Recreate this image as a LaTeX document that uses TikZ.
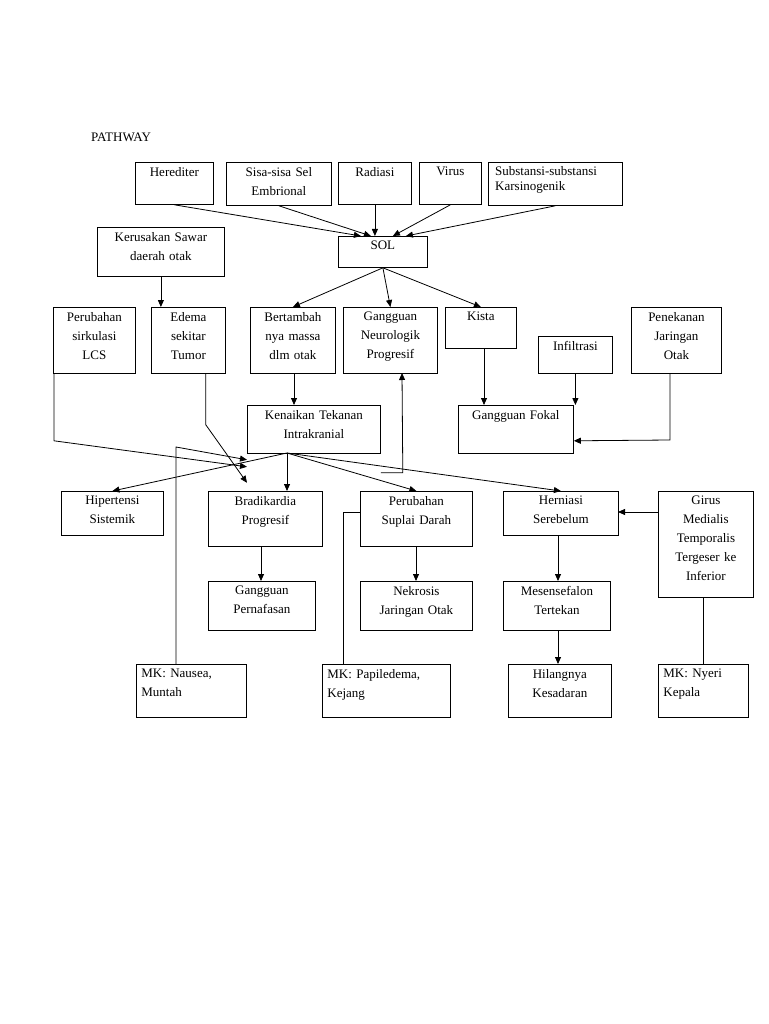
\documentclass[tikz,border=0pt]{standalone}
\usepackage{fontspec}
\setmainfont{Liberation Serif}
\usetikzlibrary{arrows.meta}
\newcommand{\bx}[7]{% name, x1,y1,x2,y2, align, text
 \node[box,minimum width={#4-#2},minimum height={#5-#3},anchor=north west] (#1) at (#2,#3) {};
 \node[txt,align=#6,anchor=north,text width={#4-#2-10}] (#1t) at ([yshift=-3]#1.north) {#7};}
\begin{document}
\begin{tikzpicture}[x=1pt,y=-1pt,
 box/.style={draw,line width=0.8pt,inner sep=0pt},
 txt/.style={inner sep=2pt,font=\fontsize{13}{19}\selectfont},
 arr/.style={line width=0.8pt,-{Triangle[length=7pt,width=6pt]}},
 ln/.style={line width=0.8pt}]
\useasboundingbox (0,0) rectangle (768,1024);
\node[txt,anchor=west] (title) at (89,137) {PATHWAY};
\bx{her}{135}{162}{213}{204}{center}{Herediter}
\bx{sis}{226}{162}{331}{205}{center}{Sisa-sisa Sel\\Embrional}
\bx{rad}{338}{162}{411}{204}{center}{Radiasi}
\bx{vir}{419}{162}{481}{204}{center}{Virus}
\node[box,minimum width=134,minimum height=43,anchor=north west] (sub) at (488,162) {};
\node[txt,anchor=north west,align=left,font=\fontsize{13}{15}\selectfont] (subt) at (493,164) {Substansi-substansi\\Karsinogenik};
\bx{sol}{338}{236}{427}{267}{center}{SOL}
\bx{ker}{97}{227}{224}{276}{center}{Kerusakan Sawar\\daerah otak}
\bx{per}{53}{307}{135}{373}{center}{Perubahan\\sirkulasi\\LCS}
\bx{ede}{151}{307}{225}{373}{center}{Edema\\sekitar\\Tumor}
\bx{ber}{250}{307}{335}{373}{center}{Bertambah\\nya massa\\dlm otak}
\bx{gan}{343}{307}{437}{373}{center}{Gangguan\\Neurologik\\Progresif}
\bx{kis}{445}{307}{516}{348}{center}{Kista}
\bx{inf}{538}{336}{612}{373}{center}{Infiltrasi}
\bx{pen}{631}{307}{721}{373}{center}{Penekanan\\Jaringan\\Otak}
\bx{ken}{247}{405}{380}{453}{center}{Kenaikan Tekanan\\Intrakranial}
\bx{fok}{458}{405}{573}{453}{center}{Gangguan Fokal}
\bx{hip}{61}{491}{163}{535}{center}{Hipertensi\\Sistemik}
\bx{bra}{208}{491}{322}{546}{center}{Bradikardia\\Progresif}
\bx{sup}{360}{491}{472}{546}{center}{Perubahan\\Suplai Darah}
\bx{her2}{503}{491}{618}{535}{center}{Herniasi\\Serebelum}
\bx{gir}{658}{491}{753}{597}{center}{Girus\\Medialis\\Temporalis\\Tergeser ke\\Inferior}
\bx{naf}{208}{581}{315}{630}{center}{Gangguan\\Pernafasan}
\bx{nek}{360}{581}{472}{630}{center}{Nekrosis\\Jaringan Otak}
\bx{mes}{503}{581}{610}{630}{center}{Mesensefalon\\Tertekan}
\bx{mkn}{136}{664}{246}{717}{left}{MK: Nausea,\\Muntah}
\bx{mkp}{322}{664}{450}{717}{left}{MK: Papiledema,\\Kejang}
\bx{hil}{508}{664}{611}{717}{center}{Hilangnya\\Kesadaran}
\bx{mky}{658}{664}{748}{717}{left}{MK: Nyeri\\Kepala}
% arrows to SOL
\draw[arr] (her.south) -- ([xshift=-22]sol.north);
\draw[arr] (sis.south) -- ([xshift=-12]sol.north);
\draw[arr] (rad.south) -- (rad.south |- sol.north);
\draw[arr] (vir.south) -- ([xshift=10]sol.north);
\draw[arr] (sub.south) -- ([xshift=23]sol.north);
\draw[arr] (sol.south) -- (ber.north);
\draw[arr] (sol.south) -- (gan.north);
\draw[arr] (sol.south) -- (kis.north);
\draw[arr] (ker.south) -- (ker.south |- ede.north);
\draw[arr] ([xshift=-193]ken.south west |- per.south) -- ++(0,67) -- ([yshift=-13]ken.south west);
\draw[arr] ([xshift=-20]ede.south east) -- ++(0,51) -- ([yshift=-29]ken.south west);
\draw[arr] (ber.south -| 294,0) -- (294,405);
\draw[arr] ([yshift=-19]ken.south east) -- ++(22,0) -- (402,373);
\draw[arr] (484,348) -- (484,405);
\draw[arr] (inf.south) -- (inf.south |- fok.north);
\draw[arr] (670,373) -- (670,440) -- ([yshift=13]fok.south east);
\draw[arr] (287,453) -- (hip.north);
\draw[arr] (287,453) -- (287,491);
\draw[arr] (287,453) -- (sup.north);
\draw[arr] (287,453) -- (her2.north);
\draw[arr] (176,664) -- (176,447) -- ([yshift=-6]ken.south west);
\draw[ln] (343,664) -- (343,512) -- (360,512);
\draw[arr] (658,512) -- (618,512);
\draw[ln] (703,664) -- (703,597);
\draw[arr] (261,546) -- (261,581);
\draw[arr] (416,546) -- (416,581);
\draw[arr] (558,535) -- (558,581);
\draw[arr] (558,630) -- (558,664);
\end{tikzpicture}
\end{document}
